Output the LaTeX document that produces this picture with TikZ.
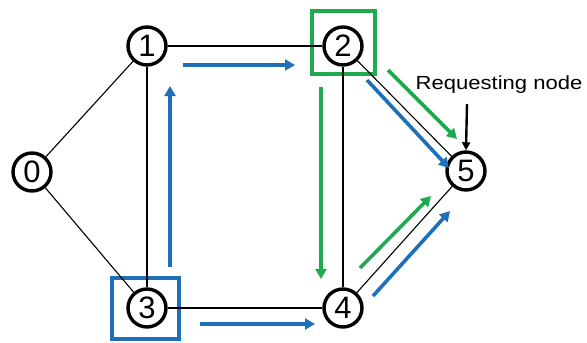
\documentclass[tikz,border=0pt]{standalone}
\usepackage{fontspec}
\setmainfont{Liberation Sans}
\usetikzlibrary{arrows.meta}
\definecolor{pblue}{RGB}{31,112,184}
\definecolor{pgreen}{RGB}{32,170,80}
\begin{document}
\begin{tikzpicture}[x=1pt,y=-1pt,
  vert/.style={circle,draw=black,line width=3.4pt,minimum size=38pt,inner sep=0pt,
     font=\fontsize{31}{31}\selectfont},
  edge/.style={draw=black,line width=1.1pt},
  flow/.style={line width=3.6pt,-{Triangle[length=10pt,width=11pt]}},
  bluebox/.style={draw=pblue,line width=3.5pt},
  greenbox/.style={draw=pgreen,line width=3.5pt}]
\useasboundingbox (0,0) rectangle (587,343);
% highlight boxes
\draw[bluebox] (112,278) rectangle (179,339);
\draw[greenbox] (312,11) rectangle (375,74);
% vertices
\node[vert] (n0) at (32,172) {0};
\node[vert] (n1) at (147,46) {1};
\node[vert] (n2) at (343,46) {2};
\node[vert] (n3) at (147,308) {3};
\node[vert] (n4) at (343,308) {4};
\node[vert] (n5) at (466,171) {5};
% edges
\draw[edge] (n0) -- (n1);
\draw[edge] (n0) -- (n3);
\draw[edge] (n1) -- (n3);
\draw[edge] (n1) -- (n2);
\draw[edge] (n3) -- (n4);
\draw[edge] (n2) -- (n4);
\draw[edge] (n2) -- (n5);
\draw[edge] (n4) -- (n5);
% flow coordinates
\coordinate (b12s) at (183,65);  \coordinate (b12e) at (295,65);
\coordinate (b31s) at (170,267); \coordinate (b31e) at (170,86);
\coordinate (b34s) at (200,324); \coordinate (b34e) at (315,324);
\coordinate (b25s) at (367,80);  \coordinate (b25e) at (449,168);
\coordinate (b45s) at (373,296); \coordinate (b45e) at (450,211);
\coordinate (g25s) at (388,70);  \coordinate (g25e) at (457,139);
\coordinate (g24s) at (321,87);  \coordinate (g24e) at (321,279);
\coordinate (g45s) at (360,268); \coordinate (g45e) at (431,196);
% blue flows
\draw[flow,pblue] (b12s) -- (b12e);
\draw[flow,pblue] (b31s) -- (b31e);
\draw[flow,pblue] (b34s) -- (b34e);
\draw[flow,pblue] (b25s) -- (b25e);
\draw[flow,pblue] (b45s) -- (b45e);
% green flows
\draw[flow,pgreen] (g25s) -- (g25e);
\draw[flow,pgreen] (g24s) -- (g24e);
\draw[flow,pgreen] (g45s) -- (g45e);
% label
\node[font=\fontsize{19}{19}\selectfont,inner sep=0pt] (lbl) at (499,85) {\scalebox{1.16}[1]{Requesting node}};
\coordinate (lbe) at (467,104);
\draw[line width=2.4pt,-{Triangle[length=8pt,width=8pt]}] (lbe) -- (n5.north);
\end{tikzpicture}
\end{document}
